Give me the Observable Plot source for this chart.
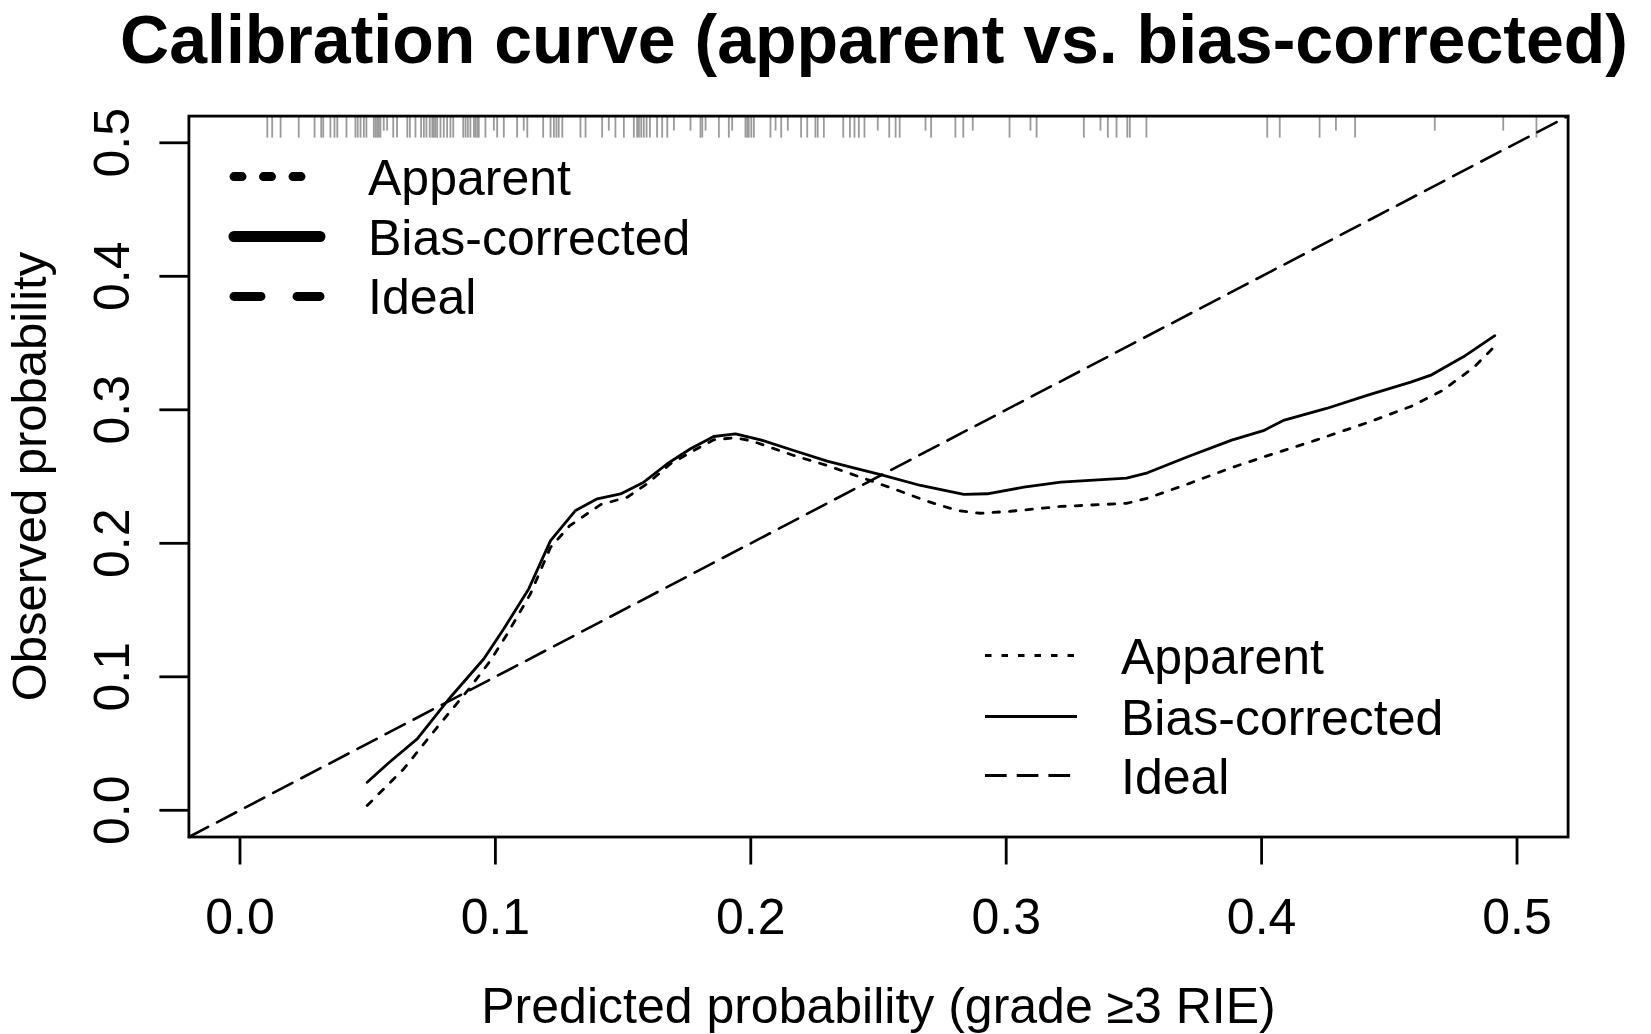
<!DOCTYPE html>
<html>
<head>
<meta charset="utf-8">
<script src="https://cdn.jsdelivr.net/npm/d3@7"></script>
<script src="https://cdn.jsdelivr.net/npm/@observablehq/plot@0.6"></script>
<style>
  html, body { margin: 0; padding: 0; background: #fff; }
  body { font-family: "Liberation Sans", Arial, Helvetica, sans-serif; }
  #wrap { position: relative; width: 1651px; height: 1034px; overflow: hidden; background: #fff; }
  #title { position: relative; height: 100px; }
  #title span { position: absolute; left: 874px; top: 8.5px; transform: translateX(-50%);
    white-space: nowrap; font-weight: bold; font-size: 68px; line-height: 60px; color: #000; }
  #chart svg { display: block; }
  #overlay { position: absolute; left: 0; top: 0; pointer-events: none; }
</style>
</head>
<body>
<div id="wrap">
  <div id="title"><span>Calibration curve (apparent vs. bias-corrected)</span></div>
  <div id="chart"></div>
</div>
<script>
// ---------- data ----------
const xTicks = [0.0, 0.1, 0.2, 0.3, 0.4, 0.5];
const yTicks = [0.0, 0.1, 0.2, 0.3, 0.4, 0.5];
const xTitle = "Predicted probability (grade \u22653 RIE)";
const yTitle = "Observed probability";
const legendLabels = ["Apparent", "Bias-corrected", "Ideal"];

// Apparent calibration curve (dotted)
const apparentX = [0.0498, 0.0641, 0.0772, 0.0902, 0.0980, 0.1046, 0.1137, 0.1216, 0.1290, 0.1412, 0.1516, 0.1594, 0.1686, 0.1777, 0.1855, 0.1933, 0.1999, 0.2168, 0.2299, 0.2430, 0.2560, 0.2691, 0.2808, 0.2899, 0.3017, 0.3214, 0.3471, 0.3553, 0.3718, 0.3883, 0.4007, 0.4213, 0.4419, 0.4584, 0.4708, 0.4831, 0.4913];
const apparentY = [0.0036, 0.0310, 0.0622, 0.0922, 0.1120, 0.1320, 0.1620, 0.1970, 0.2130, 0.2290, 0.2345, 0.2446, 0.2596, 0.2695, 0.2775, 0.2790, 0.2770, 0.2658, 0.2583, 0.2495, 0.2408, 0.2315, 0.2246, 0.2225, 0.2240, 0.2276, 0.2299, 0.2338, 0.2449, 0.2567, 0.2646, 0.2773, 0.2907, 0.3025, 0.3144, 0.3318, 0.3476];

// Bias-corrected calibration curve (solid)
const biasX = [0.0498, 0.0585, 0.0694, 0.0824, 0.0955, 0.1033, 0.1131, 0.1216, 0.1314, 0.1399, 0.1490, 0.1581, 0.1673, 0.1764, 0.1855, 0.1940, 0.2038, 0.2168, 0.2299, 0.2403, 0.2508, 0.2665, 0.2834, 0.2926, 0.3069, 0.3214, 0.3327, 0.3471, 0.3553, 0.3718, 0.3883, 0.4007, 0.4089, 0.4254, 0.4419, 0.4584, 0.4666, 0.4790, 0.4913];
const biasY = [0.0210, 0.0360, 0.0535, 0.0847, 0.1135, 0.1360, 0.1660, 0.2020, 0.2246, 0.2333, 0.2370, 0.2458, 0.2596, 0.2708, 0.2800, 0.2820, 0.2775, 0.2695, 0.2615, 0.2565, 0.2515, 0.2433, 0.2366, 0.2371, 0.2420, 0.2458, 0.2472, 0.2488, 0.2528, 0.2654, 0.2773, 0.2844, 0.2923, 0.3010, 0.3112, 0.3207, 0.3262, 0.3397, 0.3555];

// Ideal line (y = x) across the plotting range
const idealX = [-0.02, 0.52];

// Rug of predicted probabilities along the top
const rugLong = [0.0107, 0.0126, 0.0159, 0.0230, 0.0292, 0.0318, 0.0326, 0.0354, 0.0370, 0.0381, 0.0417, 0.0452, 0.0461, 0.0472, 0.0485, 0.0495, 0.0524, 0.0531, 0.0537, 0.0544, 0.0550, 0.0600, 0.0615, 0.0655, 0.0665, 0.0687, 0.0709, 0.0720, 0.0730, 0.0743, 0.0753, 0.0759, 0.0765, 0.0772, 0.0785, 0.0798, 0.0811, 0.0824, 0.0835, 0.0874, 0.0883, 0.0892, 0.0902, 0.0916, 0.0922, 0.0929, 0.0935, 0.0961, 0.1007, 0.1033, 0.1085, 0.1125, 0.1187, 0.1216, 0.1229, 0.1239, 0.1248, 0.1262, 0.1333, 0.1353, 0.1418, 0.1470, 0.1503, 0.1542, 0.1555, 0.1562, 0.1571, 0.1581, 0.1592, 0.1605, 0.1633, 0.1653, 0.1673, 0.1803, 0.1810, 0.1875, 0.1914, 0.1979, 0.1986, 0.1992, 0.2002, 0.2012, 0.2077, 0.2119, 0.2197, 0.2221, 0.2253, 0.2262, 0.2286, 0.2362, 0.2388, 0.2406, 0.2423, 0.2445, 0.2542, 0.2567, 0.2583, 0.2706, 0.2801, 0.2832, 0.3013, 0.3119, 0.3304, 0.3398, 0.3432, 0.3474, 0.3484, 0.3549, 0.4022, 0.4071, 0.4227, 0.4366, 0.5076];
const rugShort = [0.0563, 0.0576, 0.0994, 0.1111, 0.1444, 0.1699, 0.1764, 0.1823, 0.1927, 0.2097, 0.2145, 0.2497, 0.2684, 0.2869, 0.3095, 0.3369, 0.4291, 0.4678, 0.4946];

// ---------- build rows ----------
const apparent = apparentX.map((x, i) => ({x, y: apparentY[i]}));
const bias = biasX.map((x, i) => ({x, y: biasY[i]}));
const ideal = idealX.map(x => ({x, y: x}));

// ---------- layout ----------
const W = 1651, H = 934;
const mL = 188.4, mR = 83.4, mT = 15.6, mB = 197.5;
const frameH = H - mT - mB;
const FONT = "Liberation Sans, Arial, Helvetica, sans-serif";

const chart = Plot.plot({
  width: W, height: H,
  marginLeft: mL, marginRight: mR, marginTop: mT, marginBottom: mB,
  x: {domain: [-0.02, 0.52]},
  y: {domain: [-0.02, 0.52]},
  style: {fontFamily: FONT, background: "#fff", color: "#000", overflow: "visible"},
  marks: [
    Plot.ruleX(rugLong, {x: d => d, stroke: "#9a9a9a", strokeWidth: 1.8, insetBottom: frameH - 22}),
    Plot.ruleX(rugShort, {x: d => d, stroke: "#9a9a9a", strokeWidth: 1.8, insetBottom: frameH - 15}),
    Plot.line(ideal, {x: "x", y: "y", stroke: "#000", strokeWidth: 2.6, strokeDasharray: "21.7,10"}),
    Plot.line(apparent, {x: "x", y: "y", stroke: "#000", strokeWidth: 2.8, strokeDasharray: "6.5,10"}),
    Plot.line(bias, {x: "x", y: "y", stroke: "#000", strokeWidth: 2.8}),
    Plot.frame({stroke: "#000", strokeWidth: 2.8}),
    Plot.axisX(xTicks, {anchor: "bottom", tickSize: 28, tickPadding: 33, fontSize: 50,
      tickFormat: d => d.toFixed(1), strokeWidth: 2.8, label: null}),
    Plot.axisY(yTicks, {anchor: "left", tickSize: 29, tickFormat: () => "", strokeWidth: 2.8, label: null}),
    Plot.text(yTicks, {y: d => d, text: d => d.toFixed(1), frameAnchor: "left", dx: -(mL - 128),
      rotate: -90, textAnchor: "middle", lineAnchor: "bottom", fontSize: 50, fill: "#000"}),
    Plot.text([yTitle], {text: d => d, frameAnchor: "left", dx: -(mL - 45), rotate: -90,
      textAnchor: "middle", lineAnchor: "bottom", fontSize: 49, fill: "#000"}),
    Plot.text([xTitle], {text: d => d, frameAnchor: "bottom", dy: 185.5, textAnchor: "middle",
      lineAnchor: "bottom", fontSize: 50, fill: "#000"})
  ]
});
document.getElementById("chart").append(chart);

// ---------- legends (overlay in page coordinates) ----------
const ov = d3.select("#wrap").append("svg").attr("id", "overlay")
  .attr("width", 1651).attr("height", 1034);

// top-left legend: thick lines
const thick = [
  {label: legendLabels[0], y: 176.6, width: 9, dash: "8,21.5", cap: "round", x1: 234, x2: 310},
  {label: legendLabels[1], y: 236.5, width: 11, dash: null, cap: "round", x1: 234, x2: 320},
  {label: legendLabels[2], y: 296.4, width: 9, dash: "27,36", cap: "round", x1: 234, x2: 320}
];
// bottom-right legend: thin lines
const thin = [
  {label: legendLabels[0], y: 655.5, width: 2.8, dash: "6.5,10", cap: "butt", x1: 985, x2: 1077},
  {label: legendLabels[1], y: 716.5, width: 2.8, dash: null, cap: "butt", x1: 985, x2: 1077},
  {label: legendLabels[2], y: 775.5, width: 2.8, dash: "21.7,10", cap: "butt", x1: 985, x2: 1077}
];
function drawLegend(items, textX) {
  const g = ov.append("g");
  items.forEach(it => {
    const l = g.append("line").attr("x1", it.x1).attr("x2", it.x2).attr("y1", it.y).attr("y2", it.y)
      .attr("stroke", "#000").attr("stroke-width", it.width).attr("stroke-linecap", it.cap);
    if (it.dash) l.attr("stroke-dasharray", it.dash);
    g.append("text").attr("x", textX).attr("y", it.y + 18).attr("font-family", FONT)
      .attr("font-size", 50).attr("fill", "#000").text(it.label);
  });
}
drawLegend(thick, 368);
drawLegend(thin, 1121);
</script>
</body>
</html>
